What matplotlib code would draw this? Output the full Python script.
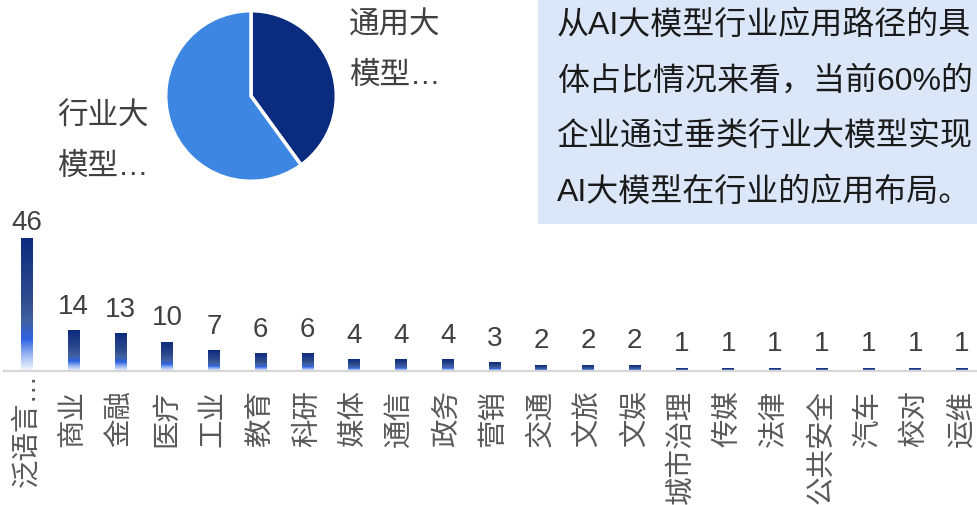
import numpy as np
import matplotlib
matplotlib.use('Agg')
import matplotlib.pyplot as plt
from matplotlib.colors import LinearSegmentedColormap
from matplotlib.patches import Rectangle

plt.rcParams['font.family'] = ['Liberation Sans', 'Noto Sans CJK SC', 'DejaVu Sans']

# industry application counts
categories = ['泛语言…', '商业', '金融', '医疗', '工业', '教育', '科研', '媒体', '通信', '政务',
              '营销', '交通', '文旅', '文娱', '城市治理', '传媒', '法律', '公共安全', '汽车', '校对', '运维']
counts = [46, 14, 13, 10, 7, 6, 6, 4, 4, 4, 3, 2, 2, 2, 1, 1, 1, 1, 1, 1, 1]

# application path share
pie_labels = ['通用大\n模型…', '行业大\n模型…']
pie_values = [40, 60]
pie_colors = ['#0b2c7e', '#3d87e2']

note_lines = ['从AI大模型行业应用路径的具',
              '体占比情况来看，当前60%的',
              '企业通过垂类行业大模型实现',
              'AI大模型在行业的应用布局。']

W, H = 978, 506
fig = plt.figure(figsize=(W / 100, H / 100), dpi=100)


def fx(x):
    return x / W


def fy(y):
    # pixel rows measured from the top
    return 1 - y / H


# ---- bar chart ----
px_per_unit = 2.891
ax_left, ax_bottom, ax_top = 3.6, 372, 200
ax = fig.add_axes([fx(ax_left), 1 - ax_bottom / H, fx(W - ax_left), (ax_bottom - ax_top) / H])
x = np.arange(len(categories))
bw = 11.5 / 46.75
bars = ax.bar(x, counts, width=bw, color='none', zorder=2)

grad = LinearSegmentedColormap.from_list('bargrad', [(0.0, '#0d2b7d'), (0.45, '#2e4b8e'),
                                                     (0.62, '#42619f'), (0.76, '#2f63e2'),
                                                     (0.88, '#9cb8f2'), (1.0, '#f6f8ff')])
ramp = np.linspace(0, 1, 256).reshape(-1, 1)
for b in bars:
    x0 = b.get_x()
    ax.imshow(ramp, cmap=grad, origin='upper', aspect='auto', zorder=2,
              extent=[x0, x0 + b.get_width(), 0, b.get_height()])

ax.set_xlim(-0.5, -0.5 + (W - ax_left) / 46.75)
ax.set_ylim(0, (ax_bottom - ax_top) / px_per_unit)

for b, v in zip(bars, counts):
    off = 2 if v == max(counts) else 8.5
    ax.annotate(str(v), (b.get_x() + b.get_width() / 2, b.get_height()),
                xytext=(0, off), textcoords='offset points',
                ha='center', va='bottom', fontsize=20, color='#404040')

for i, name in enumerate(categories):
    shift = 0.5 if name.endswith('…') else 13
    ax.annotate(name, (x[i], 0), xycoords=('data', 'axes fraction'),
                xytext=(0, -shift), textcoords='offset points',
                rotation=90, ha='center', va='top', fontsize=20.5, color='#595959')

for s in ['top', 'left', 'right']:
    ax.spines[s].set_visible(False)
ax.spines['bottom'].set_color('#d6d6d6')
ax.spines['bottom'].set_linewidth(1.6)
ax.set_xticks([])
ax.set_yticks([])
ax.patch.set_alpha(0)

# ---- pie ----
cx, cy, r = 251, 97, 87
pax = fig.add_axes([fx(cx - r), fy(cy + r), fx(2 * r), 2 * r / H])
pax.pie(pie_values, colors=pie_colors, startangle=90, counterclock=False,
        wedgeprops=dict(edgecolor='white', linewidth=2.5))
pax.set_xlim(-1.02, 1.02)
pax.set_ylim(-1.02, 1.02)
pax.set_aspect('auto')
pax.axis('off')

label_spots = [(349, 26), (57, 117)]
for (lx, ly), lab in zip(label_spots, pie_labels):
    for k, line in enumerate(lab.split('\n')):
        fig.text(fx(lx), fy(ly + 50 * k), line, ha='left', va='center',
                 fontsize=22, color='#404040')

# ---- note box ----
fig.add_artist(Rectangle((fx(538), fy(225)), fx(W - 538), 225 / H,
                         transform=fig.transFigure, facecolor='#dbe7f8',
                         edgecolor='none', zorder=0))
for k, line in enumerate(note_lines):
    fig.text(fx(557), fy(26 + 55.5 * k), line, ha='left', va='center',
             fontsize=23, color='#1a1a1a')

fig.savefig('out.png', dpi=100)
